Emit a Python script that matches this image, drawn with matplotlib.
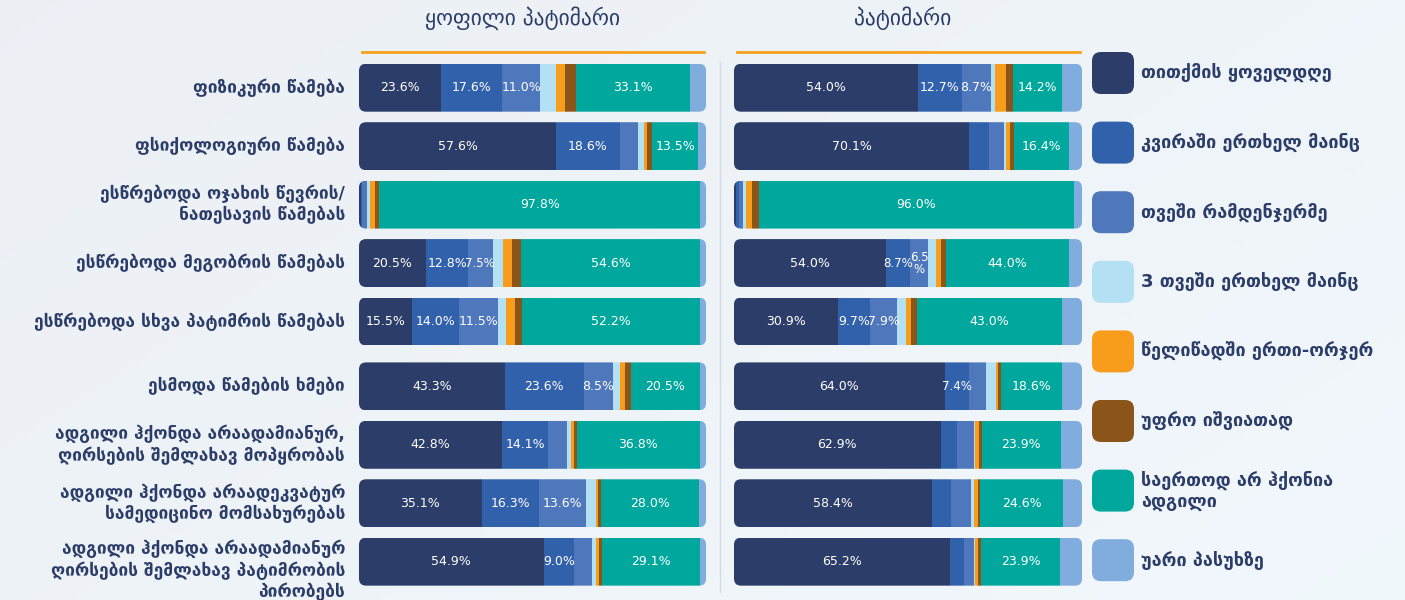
import matplotlib
matplotlib.use("Agg")
import matplotlib.pyplot as plt
from matplotlib.patches import FancyBboxPatch
from matplotlib.lines import Line2D
import numpy as np

# ---------------- data ----------------
categories = [
    "ფიზიკური წამება",
    "ფსიქოლოგიური წამება",
    "ესწრებოდა ოჯახის წევრის/\nნათესავის წამებას",
    "ესწრებოდა მეგობრის წამებას",
    "ესწრებოდა სხვა პატიმრის წამებას",
    "ესმოდა წამების ხმები",
    "ადგილი ჰქონდა არაადამიანურ,\nღირსების შემლახავ მოპყრობას",
    "ადგილი ჰქონდა არაადეკვატურ\nსამედიცინო მომსახურებას",
    "ადგილი ჰქონდა არაადამიანურ\nღირსების შემლახავ პატიმრობის\nპირობებს",
]

series_names = [
    "თითქმის ყოველდღე",
    "კვირაში ერთხელ მაინც",
    "თვეში რამდენჯერმე",
    "3 თვეში ერთხელ მაინც",
    "წელიწადში ერთი-ორჯერ",
    "უფრო იშვიათად",
    "საერთოდ არ ჰქონია\nადგილი",
    "უარი პასუხზე",
]

panel_titles = ["ყოფილი პატიმარი", "პატიმარი"]

# one row per category, one value per series (percent)
former_prisoners = [
    [23.6, 17.6, 11.0, 4.6, 2.7, 2.9, 33.1, 4.5],
    [57.6, 18.6, 5.5, 1.8, 0.7, 1.6, 13.5, 2.2],
    [0.6, 0.4, 1.3, 1.2, 1.3, 1.4, 97.8, 1.8],
    [20.5, 12.8, 7.5, 3.2, 2.6, 2.9, 54.6, 1.9],
    [15.5, 14.0, 11.5, 2.3, 2.6, 2.2, 52.2, 1.9],
    [43.3, 23.6, 8.5, 2.2, 1.5, 1.7, 20.5, 1.9],
    [42.8, 14.1, 5.5, 1.4, 0.9, 0.8, 36.8, 1.9],
    [35.1, 16.3, 13.6, 2.9, 0.4, 1.0, 28.0, 2.0],
    [54.9, 9.0, 5.5, 1.2, 0.8, 0.8, 29.1, 1.9],
]

current_prisoners = [
    [54.0, 12.7, 8.7, 1.2, 3.2, 2.0, 14.2, 6.0],
    [70.1, 6.0, 4.5, 0.5, 1.2, 1.1, 16.4, 4.0],
    [0.6, 0.8, 1.2, 1.2, 1.7, 2.0, 96.0, 2.4],
    [54.0, 8.7, 6.5, 2.6, 2.0, 1.7, 44.0, 4.5],
    [30.9, 9.7, 7.9, 2.6, 1.7, 1.8, 43.0, 6.0],
    [64.0, 7.4, 5.2, 2.9, 0.6, 0.9, 18.6, 6.0],
    [62.9, 5.0, 5.0, 0.4, 1.2, 1.0, 23.9, 6.5],
    [58.4, 5.5, 5.8, 1.0, 1.2, 0.5, 24.6, 5.5],
    [65.2, 4.2, 3.0, 0.4, 0.8, 1.0, 23.9, 6.6],
]

# ---------------- style ----------------
colors = ["#2b3d68", "#3261ac", "#4e78bb", "#b3e1f3",
          "#f89c1c", "#8b5519", "#00a79d", "#80addd"]
labelled_series = [0, 1, 2, 6]
label_min = 6.5
navy = "#2b3d68"
orange = "#f7a11c"
FONT = "DejaVu Sans"

W, H = 1405, 600
fig = plt.figure(figsize=(W / 100, H / 100), dpi=100)

# background gradient
bg = fig.add_axes([0, 0, 1, 1], zorder=-10)
gx = np.linspace(0, 1, 200)
gy = np.linspace(0, 1, 100)
GX, GY = np.meshgrid(gx, gy)
c0 = np.array([0.925, 0.940, 0.960])
c1 = np.array([0.945, 0.970, 0.988])
t = (0.6 * GX + 0.4 * GY)[..., None]
bg.imshow(c0 * (1 - t) + c1 * t, aspect="auto", extent=[0, 1, 0, 1])
bg.axis("off")


def px_axes(x0, x1, y0, y1):
    return fig.add_axes([x0 / W, 1 - y1 / H, (x1 - x0) / W, (y1 - y0) / H])


n = len(categories)
idx = np.arange(n)
ypos = idx + np.where(idx >= 5, 0.11, 0.0)
bar_h = 0.82
ylim = (8.68, -0.56)

panels = [(former_prisoners, 359, 706), (current_prisoners, 734, 1082)]
ax_top, ax_bot = 55, 595

axes = []
for p, (data, x0, x1) in enumerate(panels):
    ax = px_axes(x0, x1, ax_top, ax_bot)
    axes.append(ax)
    ax.set_xlim(0, 100)
    ax.set_ylim(*ylim)
    ax.axis("off")
    # corner rounding in pixels -> data units
    xu_per_px = 100 / (x1 - x0)
    yu_per_px = (ylim[0] - ylim[1]) / (ax_bot - ax_top)
    r = 7 * xu_per_px
    asp = yu_per_px / xu_per_px
    for i, row in enumerate(data):
        vals = np.array(row, dtype=float)
        shares = vals / vals.sum() * 100
        y = ypos[i]
        clip = FancyBboxPatch((0, y - bar_h / 2), 100, bar_h,
                              boxstyle=f"round,pad=0,rounding_size={r}",
                              mutation_aspect=asp, transform=ax.transData,
                              facecolor="none", edgecolor="none")
        ax.add_patch(clip)
        left = 0.0
        for k, (v, s) in enumerate(zip(vals, shares)):
            bars = ax.barh(y, s, left=left, height=bar_h, color=colors[k],
                           edgecolor="none", linewidth=0)
            for b in bars:
                b.set_clip_path(clip)
            if k in labelled_series and v >= label_min:
                txt = f"{v:.1f}%"
                fs = 9 if s >= 7.5 else 8.5
                if s < 6:
                    txt = f"{v:.1f}\n%"
                ax.text(left + s / 2, y, txt, ha="center", va="center",
                        color="white", fontsize=fs, family=FONT,
                        linespacing=0.9)
            left += s
    # title and orange rule
    ax.text(0.47 if p == 0 else 0.485, 1.0 + 37 / (ax_bot - ax_top), panel_titles[p],
            transform=ax.transAxes, ha="center", va="center",
            fontsize=15.5, color=navy, family=FONT)
    ax.add_line(Line2D([0.009, 0.995], [1.0056, 1.0056], transform=ax.transAxes,
                       color=orange, lw=2.0, clip_on=False))

# category labels (left of first panel)
ax0 = axes[0]
for i, cat in enumerate(categories):
    nlines = cat.count("\n") + 1
    dy = 0.15 if nlines >= 3 else 0.0
    ax0.text(-4.0, ypos[i] + dy, cat, ha="right", va="center",
             fontsize=12.5, fontweight="bold", color=navy, family=FONT,
             linespacing=1.22)

# separator between panels
fig.add_artist(Line2D([720 / W, 720 / W], [1 - 62 / H, 1 - 592 / H],
                      transform=fig.transFigure, color="#d3dbe5", lw=1))

# legend
lax = px_axes(1085, 1405, 0, 600)
lax.set_xlim(0, 320)
lax.set_ylim(600, 0)
lax.axis("off")
for k, name in enumerate(series_names):
    cy = 73 + k * 69.6
    lax.add_patch(FancyBboxPatch((7, cy - 21), 42, 42,
                                 boxstyle="round,pad=0,rounding_size=9",
                                 facecolor=colors[k], edgecolor="none"))
    lax.text(56, cy, name, ha="left", va="center", fontsize=13,
             fontweight="bold", color=navy, family=FONT, linespacing=1.2)

fig.savefig("out.png", dpi=100)
